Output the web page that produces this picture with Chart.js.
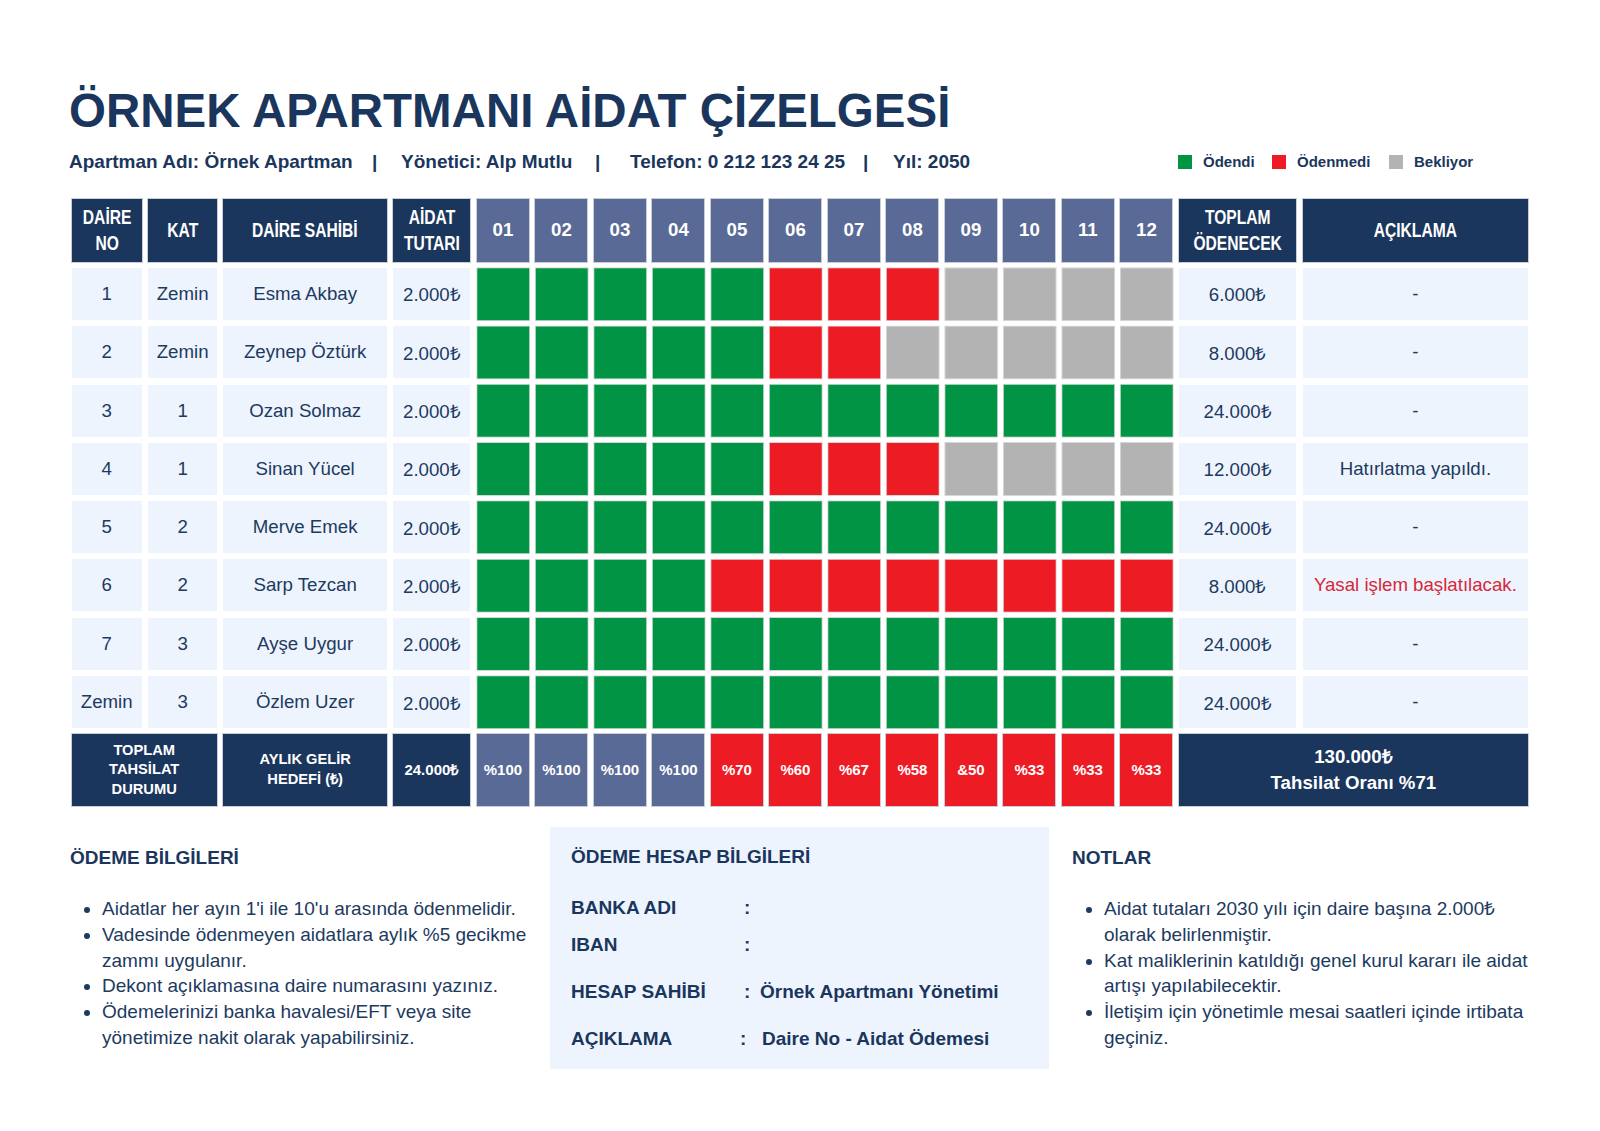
<!DOCTYPE html>
<html lang="tr">
<head>
<meta charset="utf-8">
<title>Örnek Apartmanı Aidat Çizelgesi</title>
<script src="https://cdn.jsdelivr.net/npm/chart.js@4.4.1/dist/chart.umd.min.js"></script>
<style>
  html, body { margin: 0; padding: 0; background: #fff; }
  body {
    width: 1600px; height: 1131px; position: relative; overflow: hidden;
    font-family: 'Liberation Sans', Arial, sans-serif; color: #1d3a5f;
  }
  .title {
    position: absolute; left: 69px; top: 87px; margin: 0;
    font-size: 47.5px; line-height: 47px; font-weight: bold; color: #1b365d; white-space: nowrap;
  }
  .info {
    position: absolute; top: 151px; font-size: 19px; line-height: 22px;
    font-weight: bold; white-space: nowrap; color: #1b365d;
  }
  .legend-item {
    position: absolute; top: 151px; font-size: 15px; line-height: 22px;
    font-weight: bold; color: #1b365d; white-space: nowrap;
  }
  .legend-item i {
    position: absolute; left: -25px; top: 4px; width: 14px; height: 14px;
  }
  .sheet {
    position: absolute; left: 70.5px; top: 198.3px; display: grid;
    grid-template-columns: 72.4px 70.5px 165.5px 79px repeat(12, 54px) 119.5px 227px;
    grid-template-rows: 64.4px repeat(8, 54px) 73.4px;
    column-gap: 4.5px; row-gap: 4.3px;
  }
  .cell {
    display: flex; align-items: center; justify-content: center; text-align: center;
    box-sizing: border-box;
  }
  .head {
    background: #1b365d; color: #fff; border: 1px solid #c9ced6;
    font-weight: bold; font-size: 20px; line-height: 26px; white-space: nowrap;
  }
  .head span { display: inline-block; transform: scaleX(0.78); }
  .head.month { background: #5a6a96; font-size: 18.67px; }
  .data {
    background: #eef4fd; border: 1px solid #fff; font-size: 18.67px; color: #1d3a5f;
  }
  .data.alert { color: #d62839; }
  .foot {
    background: #1b365d; color: #fff; border: 1px solid #c9ced6;
    font-weight: bold; font-size: 14.67px; line-height: 19.6px;
  }
  .foot.rate { font-size: 15px; }
  .foot.total { font-size: 18.67px; line-height: 26px; }
  .chart-cell { grid-column: 5 / 17; grid-row: 2 / 10; position: relative; }
  .chart-wrap { position: absolute; left: -2.25px; right: -2.25px; top: -2.15px; bottom: -2.15px; }
  .sec-title {
    position: absolute; top: 845px; font-size: 19px; line-height: 26px;
    font-weight: bold; color: #1b365d; margin: 0;
  }
  .notes {
    position: absolute; top: 896px; margin: 0; padding-left: 33px;
    font-size: 19px; line-height: 25.8px; color: #1d3a5f;
  }
  .bank {
    position: absolute; left: 550px; top: 827px; width: 499px; height: 242px;
    background: #eef4fd;
  }
  .bank-row {
    position: absolute; font-size: 19px; line-height: 26px; font-weight: bold;
    color: #1b365d; white-space: nowrap;
  }
</style>
</head>
<body>
<h1 class="title">ÖRNEK APARTMANI AİDAT ÇİZELGESİ</h1>
<div id="info"></div>
<div id="legend"></div>
<div class="sheet" id="sheet"></div>

<h2 class="sec-title" style="left:70px">ÖDEME BİLGİLERİ</h2>
<ul class="notes" id="paymentNotes" style="left:69px; width:443px"></ul>

<div class="bank" id="bank"></div>

<h2 class="sec-title" style="left:1072px">NOTLAR</h2>
<ul class="notes" id="generalNotes" style="left:1071px; width:440px"></ul>

<script>
const months = ['01', '02', '03', '04', '05', '06', '07', '08', '09', '10', '11', '12']
const flatNumbers = ['1', '2', '3', '4', '5', '6', '7', 'Zemin']
const floors = ['Zemin', 'Zemin', '1', '1', '2', '2', '3', '3']
const owners = ['Esma Akbay', 'Zeynep Öztürk', 'Ozan Solmaz', 'Sinan Yücel', 'Merve Emek', 'Sarp Tezcan', 'Ayşe Uygur', 'Özlem Uzer']
const dues = ['2.000₺', '2.000₺', '2.000₺', '2.000₺', '2.000₺', '2.000₺', '2.000₺', '2.000₺']
const totalsDue = ['6.000₺', '8.000₺', '24.000₺', '12.000₺', '24.000₺', '8.000₺', '24.000₺', '24.000₺']
const remarks = ['-', '-', '-', 'Hatırlatma yapıldı.', '-', 'Yasal işlem başlatılacak.', '-', '-']
const alertRemarks = ['Yasal işlem başlatılacak.']

// P = ödendi, U = ödenmedi, W = bekliyor (one letter per month)
const paymentStatus = [
  'PPPPPUUUWWWW',
  'PPPPPUUWWWWW',
  'PPPPPPPPPPPP',
  'PPPPPUUUWWWW',
  'PPPPPPPPPPPP',
  'PPPPUUUUUUUU',
  'PPPPPPPPPPPP',
  'PPPPPPPPPPPP'
]
const statusKeys = ['P', 'U', 'W']
const statusLabels = ['Ödendi', 'Ödenmedi', 'Bekliyor']
const statusColors = ['#009444', '#ed1c24', '#b3b3b3']

const monthlyRates = ['%100', '%100', '%100', '%100', '%70', '%60', '%67', '%58', '&50', '%33', '%33', '%33']
const monthlyTarget = '24.000₺'
const yearTotal = '130.000₺'
const collectionRate = 'Tahsilat Oranı %71'

const headers = ['DAİRE<br>NO', 'KAT', 'DAİRE SAHİBİ', 'AİDAT<br>TUTARI']
const tailHeaders = ['TOPLAM<br>ÖDENECEK', 'AÇIKLAMA']

const infoParts = ['Apartman Adı: Örnek Apartman', 'Yönetici: Alp Mutlu', 'Telefon: 0 212 123 24 25', 'Yıl: 2050']
const infoLefts = [69, 401, 630, 893]
const pipeLefts = [372, 595, 863]
const legendLefts = [1203, 1297, 1414]

const paymentNotes = [
  "Aidatlar her ayın 1'i ile 10'u arasında ödenmelidir.",
  'Vadesinde ödenmeyen aidatlara aylık %5 gecikme zammı uygulanır.',
  'Dekont açıklamasına daire numarasını yazınız.',
  'Ödemelerinizi banka havalesi/EFT veya site yönetimize nakit olarak yapabilirsiniz.'
]
const generalNotes = [
  'Aidat tutaları 2030 yılı için daire başına 2.000₺ olarak belirlenmiştir.',
  'Kat maliklerinin katıldığı genel kurul kararı ile aidat artışı yapılabilecektir.',
  'İletişim için yönetimle mesai saatleri içinde irtibata geçiniz.'
]
const bankLabels = ['BANKA ADI', 'IBAN', 'HESAP SAHİBİ', 'AÇIKLAMA']
const bankValues = ['', '', 'Örnek Apartmanı Yönetimi', 'Daire No - Aidat Ödemesi']
const bankTops = [68, 105, 152, 199]
const bankColonLefts = [194, 194, 194, 190]
const bankValueLefts = [210, 210, 210, 212]

const el = (tag, cls, html, style) => {
  const node = document.createElement(tag)
  if (cls) node.className = cls
  if (html !== undefined) node.innerHTML = html
  if (style) node.setAttribute('style', style)
  return node
}

const buildHeader = () => {
  const info = document.getElementById('info')
  infoParts.forEach((text, i) => info.appendChild(el('div', 'info', text, `left:${infoLefts[i]}px`)))
  pipeLefts.forEach((left) => info.appendChild(el('div', 'info', '|', `left:${left}px`)))

  const legend = document.getElementById('legend')
  statusLabels.forEach((label, i) => {
    const item = el('div', 'legend-item', label, `left:${legendLefts[i]}px`)
    item.appendChild(el('i', '', '', `background:${statusColors[i]}`))
    legend.appendChild(item)
  })
}

const buildSheet = () => {
  const sheet = document.getElementById('sheet')
  headers.forEach((h) => sheet.appendChild(el('div', 'cell head', `<span>${h}</span>`)))
  months.forEach((m) => sheet.appendChild(el('div', 'cell head month', m)))
  tailHeaders.forEach((h) => sheet.appendChild(el('div', 'cell head', `<span>${h}</span>`)))

  owners.forEach((owner, r) => {
    const row = r + 2
    sheet.appendChild(el('div', 'cell data', flatNumbers[r], `grid-column:1; grid-row:${row}`))
    sheet.appendChild(el('div', 'cell data', floors[r], `grid-column:2; grid-row:${row}`))
    sheet.appendChild(el('div', 'cell data', owner, `grid-column:3; grid-row:${row}`))
    sheet.appendChild(el('div', 'cell data', dues[r], `grid-column:4; grid-row:${row}`))
    sheet.appendChild(el('div', 'cell data', totalsDue[r], `grid-column:17; grid-row:${row}`))
    const cls = alertRemarks.includes(remarks[r]) ? 'cell data alert' : 'cell data'
    sheet.appendChild(el('div', cls, remarks[r], `grid-column:18; grid-row:${row}`))
  })

  const chartCell = el('div', 'chart-cell')
  const wrap = el('div', 'chart-wrap')
  const canvas = el('canvas')
  canvas.id = 'statusChart'
  wrap.appendChild(canvas)
  chartCell.appendChild(wrap)
  sheet.appendChild(chartCell)

  sheet.appendChild(el('div', 'cell foot', 'TOPLAM<br>TAHSİLAT<br>DURUMU', 'grid-column:1 / 3; grid-row:10'))
  sheet.appendChild(el('div', 'cell foot', 'AYLIK GELİR<br>HEDEFİ (₺)', 'grid-column:3; grid-row:10'))
  sheet.appendChild(el('div', 'cell foot rate', monthlyTarget, 'grid-column:4; grid-row:10'))
  monthlyRates.forEach((rate, i) => {
    const full = parseInt(rate.slice(1), 10) >= 100
    const bg = full ? '#5a6a96' : statusColors[1]
    sheet.appendChild(el('div', 'cell foot rate', rate, `grid-column:${i + 5}; grid-row:10; background:${bg}`))
  })
  sheet.appendChild(el('div', 'cell foot total', `${yearTotal}<br>${collectionRate}`, 'grid-column:17 / 19; grid-row:10'))
}

const buildNotes = () => {
  const fill = (id, items) => {
    const list = document.getElementById(id)
    items.forEach((text) => list.appendChild(el('li', '', text)))
  }
  fill('paymentNotes', paymentNotes)
  fill('generalNotes', generalNotes)

  const bank = document.getElementById('bank')
  bank.appendChild(el('div', 'bank-row', 'ÖDEME HESAP BİLGİLERİ', 'left:21px; top:17px'))
  bankLabels.forEach((label, i) => {
    bank.appendChild(el('div', 'bank-row', label, `left:21px; top:${bankTops[i]}px`))
    bank.appendChild(el('div', 'bank-row', ':', `left:${bankColonLefts[i]}px; top:${bankTops[i]}px`))
    bank.appendChild(el('div', 'bank-row', bankValues[i], `left:${bankValueLefts[i]}px; top:${bankTops[i]}px`))
  })
}

const initChart = () => {
  const cellInset = 0.037
  const datasets = paymentStatus.map((row, r) => {
    const codes = row.split('')
    return {
      label: owners[r],
      data: codes.map(() => [r + cellInset, r + 1 - cellInset]),
      backgroundColor: codes.map((c) => statusColors[statusKeys.indexOf(c)]),
      borderColor: '#d6d6d6',
      borderWidth: 1,
      borderSkipped: false,
      grouped: false,
      barPercentage: 0.923,
      categoryPercentage: 1
    }
  })

  new Chart(document.getElementById('statusChart'), {
    type: 'bar',
    data: { labels: months, datasets },
    options: {
      responsive: true,
      maintainAspectRatio: false,
      animation: false,
      layout: { padding: 0 },
      plugins: {
        legend: { display: false },
        tooltip: {
          callbacks: {
            title: (items) => `${items[0].dataset.label} - ${items[0].label}`,
            label: (item) => statusLabels[statusKeys.indexOf(paymentStatus[item.datasetIndex][item.dataIndex])]
          }
        }
      },
      scales: {
        x: { type: 'category', display: false, grid: { display: false } },
        y: { type: 'linear', min: 0, max: owners.length, reverse: true, display: false, grid: { display: false } }
      }
    }
  })
}

buildHeader()
buildSheet()
buildNotes()
initChart()
</script>
</body>
</html>
